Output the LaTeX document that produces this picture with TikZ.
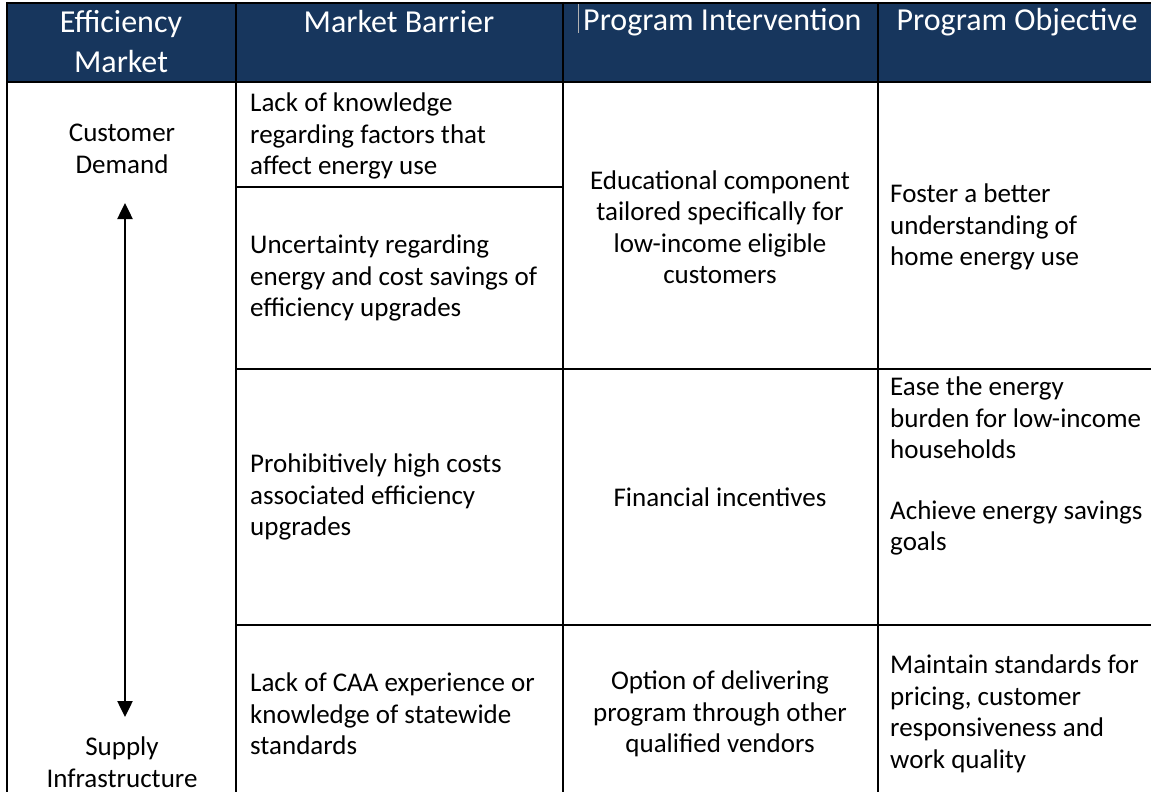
\documentclass[tikz,border=0pt]{standalone}
\usepackage{fontspec}
\setmainfont{Carlito}
\usetikzlibrary{arrows.meta}
\definecolor{navy}{RGB}{23,54,93}
\newcommand{\bodyfont}{\fontsize{27}{31.5}\selectfont}
\newcommand{\headfont}{\fontsize{32}{40}\selectfont}
\begin{document}
\begin{tikzpicture}[x=1pt,y=-1pt,
  grid/.style={line width=2.2pt},
  head/.style={font=\headfont, text=white, align=center, inner sep=0},
  cell/.style={font=\bodyfont, align=left, anchor=west, inner sep=0},
  ccell/.style={font=\bodyfont, align=center, inner sep=0},
  dbl/.style={line width=2.5pt, {Triangle[length=16pt,width=15pt]}-{Triangle[length=16pt,width=15pt]}}]
\useasboundingbox (0,0) rectangle (1151,792);
\fill[navy] (7,3) rectangle (1151,82);
\draw[gray!60, line width=0.8pt] (578,4) -- (578,33);
% grid
\draw[grid] (7,3) -- (1151,3);
\draw[grid] (7,82) -- (1151,82);
\draw[grid] (7,2) -- (7,792);
\draw[grid] (236,2) -- (236,792);
\draw[grid] (563,2) -- (563,792);
\draw[grid] (878,2) -- (878,792);
\draw[grid] (236,187) -- (563,187);
\draw[grid] (236,369) -- (1151,369);
\draw[grid] (236,625) -- (1151,625);
% header
\node[head] (h1) at (121,42) {Efficiency\\Market};
\node[head] (h2) at (399,22) {Market Barrier};
\node[head, anchor=west] (h3) at (583,22) {Program Intervention};
\node[head] (h4) at (1017,22) {Program Objective};
% column 1
\node[ccell] (c1top) at (122,149) {Customer\\Demand};
\node[ccell] (c1bot) at (122,762) {Supply\\Infrastructure};
\coordinate (atop) at (125,203);
\coordinate (abot) at (125,717);
\draw[dbl] (atop) -- (abot);
% column 2
\node[cell] (b1) at (250,136) {Lack of knowledge\\regarding factors that\\affect energy use};
\node[cell] (b2) at (250,278) {Uncertainty regarding\\energy and cost savings of\\efficiency upgrades};
\node[cell] (b3) at (250,497) {Prohibitively high costs\\associated efficiency\\upgrades};
\node[cell] (b4) at (250,714) {Lack of CAA experience or\\knowledge of statewide\\standards};
% column 3
\node[ccell] (i1) at (720,227) {Educational component\\tailored specifically for\\low-income eligible\\customers};
\node[ccell] (i2) at (720,497) {Financial incentives};
\node[ccell] (i3) at (720,714) {Option of delivering\\program through other\\qualified vendors};
% column 4
\node[cell] (o1) at (890,227) {Foster a better\\understanding of\\home energy use};
\node[cell] (o2a) at (890,418) {Ease the energy\\burden for low-income\\households};
\node[cell] (o2b) at (890,528) {Achieve energy savings\\goals};
\node[cell] (o3) at (890,714) {Maintain standards for\\pricing, customer\\responsiveness and\\work quality};
\end{tikzpicture}
\end{document}
